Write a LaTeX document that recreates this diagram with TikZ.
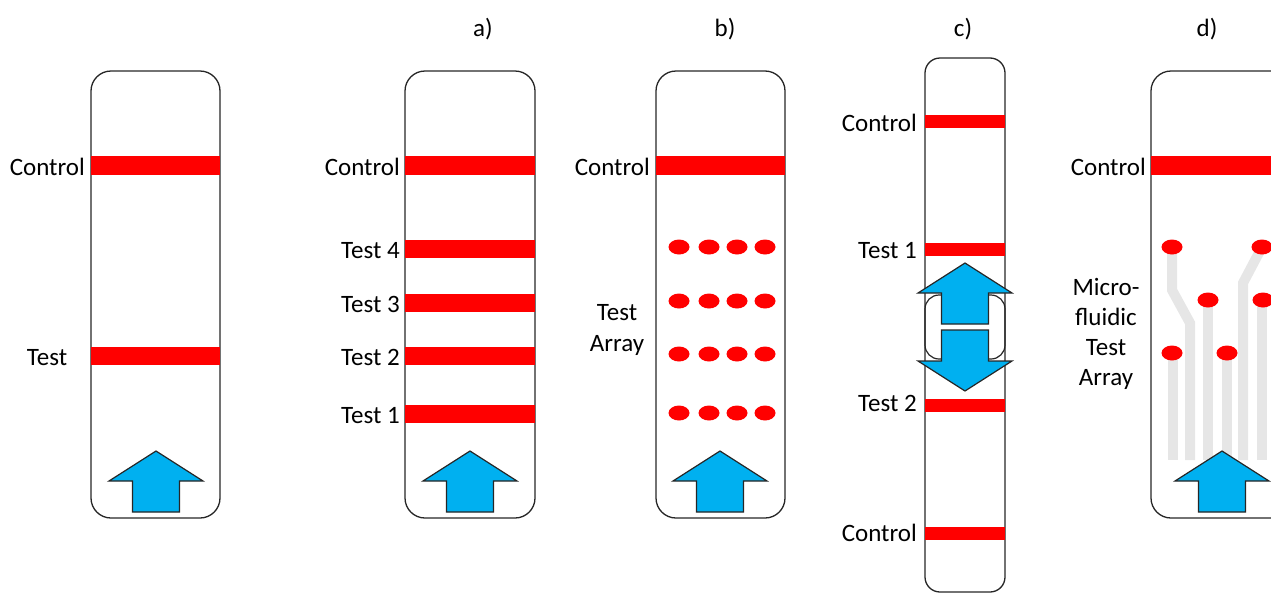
\documentclass[tikz,border=0pt]{standalone}
\usepackage{fontspec}
\setmainfont{Carlito}
\definecolor{barred}{HTML}{FF0000}
\definecolor{flowblue}{HTML}{00B0F0}
\definecolor{channelgray}{HTML}{E6E6E6}
\definecolor{edgegray}{HTML}{262626}
\begin{document}
\begin{tikzpicture}[x=1pt,y=-1pt,
  font=\fontsize{25}{31}\selectfont,
  strip/.style={draw=edgegray, line width=1.3pt, rounded corners=20pt},
  bar/.style={fill=barred, draw=none},
  spot/.style={fill=barred, draw=none, x radius=10.5pt, y radius=7.5pt},
  channel/.style={draw=channelgray, line width=10pt, line join=miter},
  flow/.style={fill=flowblue, draw=edgegray, line width=1.2pt, line join=miter},
  lbl/.style={inner sep=0pt, anchor=base east},
  clbl/.style={inner sep=0pt, anchor=base},
  upflow/.pic={\path[flow] (0,0) -- (47,30) -- (23.5,30) -- (23.5,61) -- (-23.5,61) -- (-23.5,30) -- (-47,30) -- cycle;}
]
\useasboundingbox (0,0) rectangle (1271,592);
\begin{scope}
\clip (0,0) rectangle (1271,592);

% ---------- strip 1 ----------
\draw[strip] (91,71) rectangle (220,518);
\fill[bar] (91,156) rectangle (220,175);
\fill[bar] (91,347) rectangle (220,365);
\pic at (156,451) {upflow};
\node[lbl] (l1control) at (85,175) {Control};
\node[clbl] (l1test) at (47,365) {Test};

% ---------- strip a ----------
\node[clbl] (ta) at (483,36) {a)};
\draw[strip] (405,71) rectangle (535,518);
\fill[bar] (405,156) rectangle (535,175);
\fill[bar] (405,240) rectangle (535,258);
\fill[bar] (405,294) rectangle (535,312);
\fill[bar] (405,347) rectangle (535,365);
\fill[bar] (405,405) rectangle (535,423);
\pic at (470,451) {upflow};
\node[lbl] (lacontrol) at (400,175) {Control};
\node[lbl] (latest4) at (400,258) {Test 4};
\node[lbl] (latest3) at (400,312) {Test 3};
\node[lbl] (latest2) at (400,365) {Test 2};
\node[lbl] (latest1) at (400,423) {Test 1};

% ---------- strip b ----------
\node[clbl] (tb) at (725,36) {b)};
\draw[strip] (656,71) rectangle (785,518);
\fill[bar] (656,156) rectangle (785,175);
\foreach \yy in {247,301,354,413}{
  \foreach \xx in {679,709,737,765}{
    \fill[spot] (\xx,\yy) ellipse [];
  }
}
\pic at (720,451) {upflow};
\node[lbl] (lbcontrol) at (650,175) {Control};
\node[clbl] (lbtest) at (617,320) {Test};
\node[clbl] (lbarray) at (617,351) {Array};

% ---------- strip c ----------
\node[clbl] (tc) at (963,36) {c)};
\draw[strip, rounded corners=15pt] (925,58) rectangle (1005,592);
\fill[bar] (925,115) rectangle (1005,128);
\fill[bar] (925,243) rectangle (1005,256);
\fill[bar] (925,399) rectangle (1005,412);
\fill[bar] (925,527) rectangle (1005,540);
\draw[draw=edgegray, line width=1.2pt, rounded corners=14pt] (925,295) rectangle (1005,359);
\pic at (965,263) {upflow};
\pic[yscale=-1] at (965,391) {upflow};
\node[lbl] (lccontrol1) at (917,131) {Control};
\node[lbl] (lctest1) at (917,258) {Test 1};
\node[lbl] (lctest2) at (917,411) {Test 2};
\node[lbl] (lccontrol2) at (917,541) {Control};

% ---------- strip d ----------
\node[clbl] (td) at (1207,36) {d)};
\draw[strip] (1151,71) rectangle (1300,518);
\fill[bar] (1151,156) rectangle (1300,175);
\draw[channel] (1172,247) -- (1172,290) -- (1190,323) -- (1190,460);
\draw[channel] (1208,300) -- (1208,460);
\draw[channel] (1173,353) -- (1173,460);
\draw[channel] (1227,353) -- (1227,460);
\draw[channel] (1262,247) -- (1243,283) -- (1243,460);
\draw[channel] (1262,300) -- (1262,460);
\fill[spot] (1172,247) ellipse [];
\fill[spot] (1262,247) ellipse [];
\fill[spot] (1208,300) ellipse [];
\fill[spot] (1263,300) ellipse [];
\fill[spot] (1172,353) ellipse [];
\fill[spot] (1227,353) ellipse [];
\pic at (1222,451) {upflow};
\node[lbl] (ldcontrol) at (1146,175) {Control};
\node[clbl] (ldmicro) at (1106,295) {Micro-};
\node[clbl] (ldfluidic) at (1106,325) {fluidic};
\node[clbl] (ldtest) at (1106,355) {Test};
\node[clbl] (ldarray) at (1106,385) {Array};
\end{scope}
\end{tikzpicture}
\end{document}
